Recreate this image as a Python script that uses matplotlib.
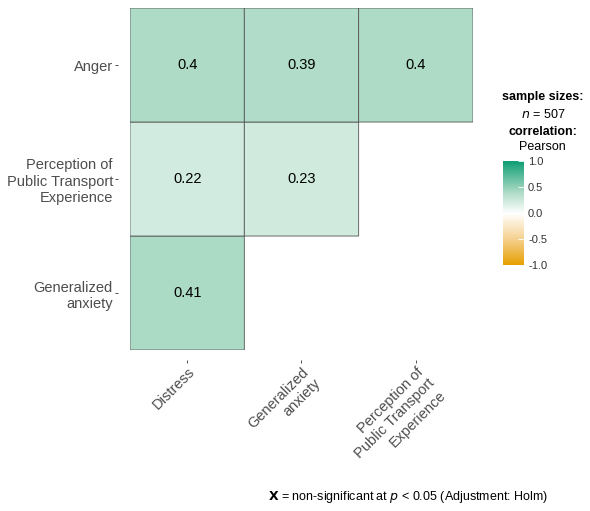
import numpy as np
import matplotlib
matplotlib.use("Agg")
import matplotlib.pyplot as plt
from matplotlib.colors import LinearSegmentedColormap, Normalize
from matplotlib.colorbar import ColorbarBase

plt.rcParams['font.family'] = ['Liberation Sans', 'DejaVu Sans']

# data
col_labels = ["Distress", "Generalized\nanxiety", "Perception of\nPublic Transport\nExperience"]
row_labels = ["Anger", "Perception of\nPublic Transport\nExperience", "Generalized\nanxiety"]
row_anger = [0.40, 0.39, 0.40]
row_perception = [0.22, 0.23, np.nan]
row_genanx = [0.41, np.nan, np.nan]
value_labels = [["0.4", "0.39", "0.4"], ["0.22", "0.23", ""], ["0.41", "", ""]]
n_size = 507

corr = np.ma.masked_invalid(np.array([row_anger, row_perception, row_genanx]))

# orange - white - green, lightened mid tones like ggplot's Lab interpolation
cmap = LinearSegmentedColormap.from_list("corr", [
    (0.0, "#E69F00"), (0.25, "#F5D08F"), (0.5, "#FFFFFF"),
    (0.61, "#D2EBE0"), (0.70, "#AEDBC7"), (1.0, "#109E74")])
norm = Normalize(-1, 1)

fig = plt.figure(figsize=(5.9, 5.11), dpi=100)
ax = fig.add_axes([0.2203, 0.315, 0.5814, 0.6693])

# pcolor skips masked cells entirely (no edges drawn)
ax.pcolor(np.arange(4), np.arange(4), corr[::-1], cmap=cmap, norm=norm,
          edgecolors="#555555", linewidth=0.6)
for i in range(3):
    for j in range(3):
        if value_labels[i][j]:
            ax.text(j + 0.5, 2.5 - i, value_labels[i][j], ha="center", va="center",
                    fontsize=10.5, color="black")

# spine offsets first, they reset the tick label settings
ax.spines["left"].set_position(("outward", 8.6))
ax.spines["bottom"].set_position(("outward", 7))
for s in ax.spines.values():
    s.set_visible(False)

ax.set_xlim(0, 3)
ax.set_ylim(0, 3)
ax.set_xticks(np.arange(3) + 0.5)
ax.set_yticks(np.arange(3) + 0.5)
ax.set_xticklabels(col_labels, rotation=45, ha="right", va="top",
                   rotation_mode="anchor", multialignment="right",
                   fontsize=10.5, color="#4D4D4D")
ax.set_yticklabels(row_labels[::-1], fontsize=10.5, color="#4D4D4D",
                   multialignment="right")
ax.tick_params(length=2.2, width=0.6, color="#333333", pad=1.5)

# legend
fig.text(0.92, 0.81, "sample sizes:", ha="center", va="center",
         fontsize=9, fontweight="bold", color="black")
fig.text(0.92, 0.775, "$\\it{n}$ = " + str(n_size), ha="center", va="center",
         fontsize=9, color="black")
fig.text(0.92, 0.742, "correlation:", ha="center", va="center",
         fontsize=9, fontweight="bold", color="black")
fig.text(0.92, 0.712, "Pearson", ha="center", va="center",
         fontsize=9, color="black")

cax = fig.add_axes([0.852, 0.481, 0.036, 0.203])
cb = ColorbarBase(cax, cmap=cmap, norm=norm, ticks=[-1, -0.5, 0, 0.5, 1])
cb.outline.set_visible(False)
cb.ax.set_yticklabels(["-1.0", "-0.5", "0.0", "0.5", "1.0"])
cb.ax.tick_params(length=4, width=0.6, color="white", direction="in",
                  labelsize=8, labelcolor="#333333", pad=3)

fig.text(0.692, 0.027, "$\\bf{X}$ = non-significant at $\\it{p}$ < 0.05 (Adjustment: Holm)",
         ha="center", va="center", fontsize=9, color="black")

fig.savefig("out.png", dpi=100, facecolor="white")
